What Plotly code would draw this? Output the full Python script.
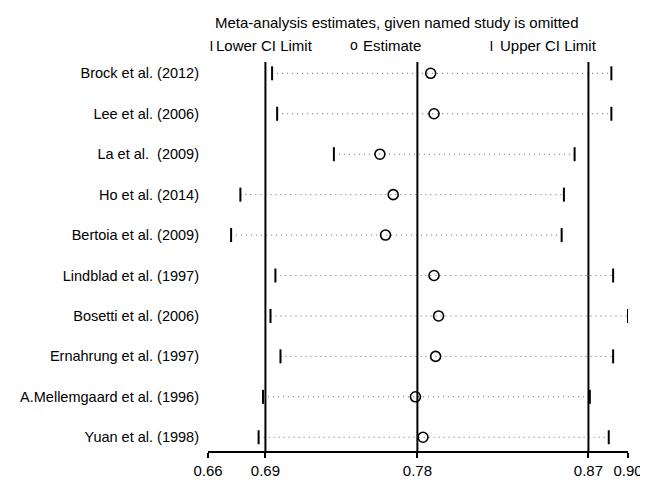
import plotly.graph_objects as go

# ---- data ----
studies = ["Brock et al. (2012)", "Lee et al. (2006)", "La et al.  (2009)", "Ho et al. (2014)",
           "Bertoia et al. (2009)", "Lindblad et al. (1997)", "Bosetti et al. (2006)",
           "Ernahrung et al. (1997)", "A.Mellemgaard et al. (1996)", "Yuan et al. (1998)"]
lower_ci = [0.6930, 0.6959, 0.7283, 0.6749, 0.6696, 0.6949, 0.6921, 0.6978, 0.6878, 0.6853]
estimate = [0.7836, 0.7855, 0.7546, 0.7622, 0.7578, 0.7855, 0.7881, 0.7864, 0.7749, 0.7792]
upper_ci = [0.8868, 0.8868, 0.8658, 0.8597, 0.8584, 0.8878, 0.8963, 0.8878, 0.8745, 0.8853]

overall_lower = 0.6892
overall_est = 0.7760
overall_upper = 0.8737
axis_min = 0.6564
axis_max = 0.8963

tick_vals = [axis_min, overall_lower, overall_est, overall_upper, axis_max]
tick_text = ["0.66", "0.69", "0.78", "0.87", "0.90"]

title_text = "Meta-analysis estimates, given named study is omitted"
legend_labels = ["Lower CI Limit", "Estimate", "Upper CI Limit"]

FONT = "Liberation Sans, Arial, sans-serif"

fig = go.Figure()

# dotted CI lines
for s, lo, hi in zip(studies, lower_ci, upper_ci):
    fig.add_trace(go.Scatter(x=[lo, hi], y=[s, s], mode="lines",
                             line=dict(color="#666666", width=1, dash="1px,4px"),
                             hoverinfo="skip", showlegend=False))

fig.add_trace(go.Scatter(x=lower_ci, y=studies, mode="markers", name=legend_labels[0],
                         marker=dict(symbol="line-ns", size=10, line=dict(color="black", width=2)),
                         showlegend=False))
fig.add_trace(go.Scatter(x=estimate, y=studies, mode="markers", name=legend_labels[1],
                         marker=dict(symbol="circle-open", size=10, color="black", line=dict(color="black", width=1.6)),
                         showlegend=False))
fig.add_trace(go.Scatter(x=upper_ci, y=studies, mode="markers", name=legend_labels[2],
                         marker=dict(symbol="line-ns", size=10, line=dict(color="black", width=2)),
                         showlegend=False))

for v in [overall_lower, overall_est, overall_upper]:
    fig.add_shape(type="line", xref="x", yref="paper", x0=v, x1=v, y0=0, y1=1,
                  line=dict(color="black", width=2))

# page coordinates of the plot area (page has an 8px body margin)
PL, PT, PR, PB = 205.5, 62.0, 627.7, 459.0
W = PR - PL
H = PB - PT
def px_x(p):
    return (p - PL) / W
def px_y(p):
    return 1 + (PT - p) / H

ann = [
    dict(text=title_text, x=px_x(211), y=px_y(21.7), xanchor="left", yanchor="middle", font=dict(size=15)),
    dict(text="<b>|</b>", x=px_x(206), y=px_y(45), xanchor="left", yanchor="middle", font=dict(size=10)),
    dict(text=legend_labels[0], x=px_x(212), y=px_y(45), xanchor="left", yanchor="middle", font=dict(size=15)),
    dict(text="o", x=px_x(346), y=px_y(45), xanchor="left", yanchor="middle", font=dict(size=14)),
    dict(text=legend_labels[1], x=px_x(359), y=px_y(45), xanchor="left", yanchor="middle", font=dict(size=15)),
    dict(text="<b>|</b>", x=px_x(487), y=px_y(45), xanchor="left", yanchor="middle", font=dict(size=10)),
    dict(text=legend_labels[2], x=px_x(497), y=px_y(45), xanchor="left", yanchor="middle", font=dict(size=15)),
]
for a in ann:
    fig.add_annotation(xref="paper", yref="paper", showarrow=False, **a)

OFF = 8
fig.update_layout(
    width=648, height=483,
    margin=dict(l=PL - OFF, r=648 - (PR - OFF), t=PT - OFF, b=483 - (PB - OFF), pad=0),
    paper_bgcolor="white", plot_bgcolor="white",
    font=dict(family=FONT, size=14, color="black"),
    showlegend=False,
    xaxis=dict(range=[axis_min, axis_max], tickvals=tick_vals, ticktext=tick_text,
               showgrid=False, zeroline=False, showline=True, linecolor="black", linewidth=1.5,
               ticks="outside", ticklen=5, tickcolor="black", tickwidth=1.5,
               tickfont=dict(size=15)),
    yaxis=dict(type="category", categoryorder="array", categoryarray=studies,
               range=[9.34, -0.28], showgrid=False, zeroline=False, showline=False,
               ticks="", ticklabelstandoff=8, tickfont=dict(size=14.5)),
)

fig.write_html("out.html")
